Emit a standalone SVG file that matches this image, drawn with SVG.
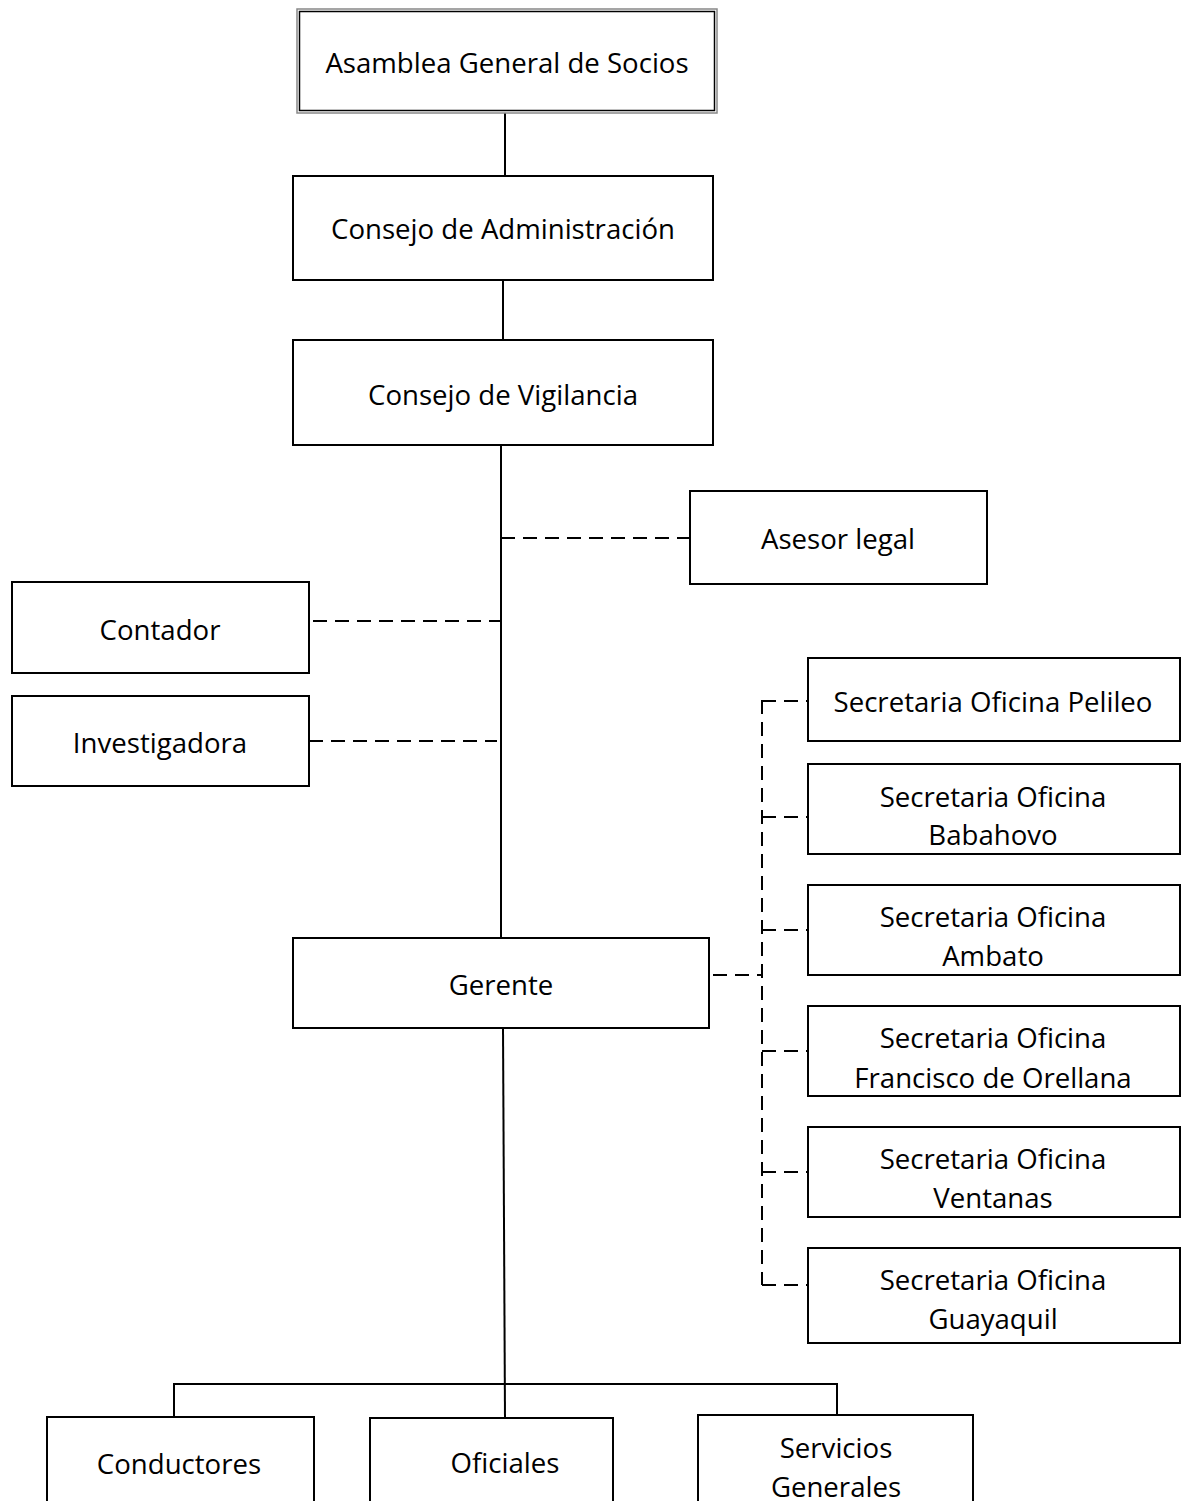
<svg xmlns="http://www.w3.org/2000/svg" width="1189" height="1501" viewBox="0 0 1189 1501">
  <style>
    .box { fill: #fff; stroke: #000; stroke-width: 2; }
    .lbl { font-family: "Open Sans", "Noto Sans", "Liberation Sans", sans-serif; font-size: 27.6px; fill: #000; text-anchor: middle; dominant-baseline: central; }
    .solid { stroke: #000; stroke-width: 2; fill: none; }
    .dash { stroke: #000; stroke-width: 2; fill: none; stroke-dasharray: 14 8; }
  </style>
  <rect width="1189" height="1501" fill="#fff"/>

  <g id="connectors">
    <line class="solid" x1="505" y1="113" x2="505" y2="176"/>
    <line class="solid" x1="503" y1="280" x2="503" y2="340"/>
    <line class="solid" x1="501" y1="445" x2="501" y2="938"/>
    <line class="dash" x1="501" y1="538" x2="690" y2="538"/>
    <line class="dash" x1="313" y1="621" x2="501" y2="621"/>
    <line class="dash" x1="309" y1="741" x2="497" y2="741"/>
    <line class="dash" x1="713" y1="975" x2="762" y2="975"/>
    <line class="dash" x1="762" y1="700" x2="762" y2="1285"/>
    <line class="dash" x1="762" y1="701" x2="808" y2="701"/>
    <line class="dash" x1="762" y1="817" x2="810" y2="817"/>
    <line class="dash" x1="762" y1="930" x2="810" y2="930"/>
    <line class="dash" x1="762" y1="1051" x2="810" y2="1051"/>
    <line class="dash" x1="762" y1="1172" x2="810" y2="1172"/>
    <line class="dash" x1="762" y1="1285" x2="810" y2="1285"/>
    <line class="solid" x1="503" y1="1028" x2="505" y2="1418"/>
    <polyline class="solid" points="174,1417 174,1384 837,1384 837,1415"/>
  </g>

  <g id="asamblea">
    <rect x="297" y="9" width="420" height="104" fill="#fff" stroke="#888" stroke-width="1.5"/>
    <rect x="299.5" y="11.5" width="415" height="99" fill="none" stroke="#000" stroke-width="1.5"/>
    <text class="lbl" x="507" y="62">Asamblea General de Socios</text>
  </g>
  <g id="consejo-admin">
    <rect class="box" x="293" y="176" width="420" height="104"/>
    <text class="lbl" x="503" y="228">Consejo de Administración</text>
  </g>
  <g id="consejo-vigilancia">
    <rect class="box" x="293" y="340" width="420" height="105"/>
    <text class="lbl" x="503" y="394">Consejo de Vigilancia</text>
  </g>
  <g id="asesor">
    <rect class="box" x="690" y="491" width="297" height="93"/>
    <text class="lbl" x="838" y="538">Asesor legal</text>
  </g>
  <g id="contador">
    <rect class="box" x="12" y="582" width="297" height="91"/>
    <text class="lbl" x="160" y="629">Contador</text>
  </g>
  <g id="investigadora">
    <rect class="box" x="12" y="696" width="297" height="90"/>
    <text class="lbl" x="160" y="742">Investigadora</text>
  </g>
  <g id="gerente">
    <rect class="box" x="293" y="938" width="416" height="90"/>
    <text class="lbl" x="501" y="984">Gerente</text>
  </g>

  <g id="sec-pelileo">
    <rect class="box" x="808" y="658" width="372" height="83"/>
    <text class="lbl" x="993" y="701">Secretaria Oficina Pelileo</text>
  </g>
  <g id="sec-babahovo">
    <rect class="box" x="808" y="764" width="372" height="90"/>
    <text class="lbl" x="993" y="796">Secretaria Oficina</text>
    <text class="lbl" x="993" y="834">Babahovo</text>
  </g>
  <g id="sec-ambato">
    <rect class="box" x="808" y="885" width="372" height="90"/>
    <text class="lbl" x="993" y="916">Secretaria Oficina</text>
    <text class="lbl" x="993" y="955">Ambato</text>
  </g>
  <g id="sec-orellana">
    <rect class="box" x="808" y="1006" width="372" height="90"/>
    <text class="lbl" x="993" y="1037">Secretaria Oficina</text>
    <text class="lbl" x="993" y="1077">Francisco de Orellana</text>
  </g>
  <g id="sec-ventanas">
    <rect class="box" x="808" y="1127" width="372" height="90"/>
    <text class="lbl" x="993" y="1158">Secretaria Oficina</text>
    <text class="lbl" x="993" y="1197">Ventanas</text>
  </g>
  <g id="sec-guayaquil">
    <rect class="box" x="808" y="1248" width="372" height="95"/>
    <text class="lbl" x="993" y="1279">Secretaria Oficina</text>
    <text class="lbl" x="993" y="1318">Guayaquil</text>
  </g>

  <g id="conductores">
    <rect class="box" x="47" y="1417" width="267" height="100"/>
    <text class="lbl" x="179" y="1463">Conductores</text>
  </g>
  <g id="oficiales">
    <rect class="box" x="370" y="1418" width="243" height="100"/>
    <text class="lbl" x="505" y="1462">Oficiales</text>
  </g>
  <g id="servicios">
    <rect class="box" x="698" y="1415" width="275" height="100"/>
    <text class="lbl" x="836" y="1447">Servicios</text>
    <text class="lbl" x="836" y="1486">Generales</text>
  </g>
</svg>
